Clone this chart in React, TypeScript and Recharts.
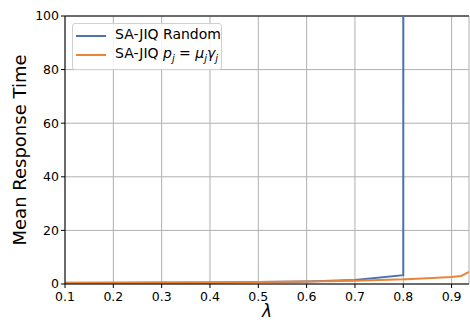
import { LineChart, Line, XAxis, YAxis, CartesianGrid, Label, ReferenceLine } from "recharts";

const lambdas = [0.1, 0.2, 0.3, 0.4, 0.5, 0.6, 0.7, 0.8, 0.805, 0.85, 0.9, 0.92, 0.936];
const randomJiq = [0.45, 0.5, 0.55, 0.6, 0.75, 0.95, 1.5, 3.3, 5000, 8000, 10000, 12000, 15000];
const weightedJiq = [0.4, 0.45, 0.5, 0.55, 0.7, 0.9, 1.2, 1.75, 1.8, 2.1, 2.6, 3.0, 4.5];
const xTicks = [0.1, 0.2, 0.3, 0.4, 0.5, 0.6, 0.7, 0.8, 0.9];
const yTicks = [0, 20, 40, 60, 80, 100];

const BLUE = "#4c72b0";
const ORANGE = "#e8853a";
const FONT = "'DejaVu Sans', sans-serif";

const data = lambdas.map((l, i) => ({ l, random: randomJiq[i], weighted: weightedJiq[i] }));

const LegendBox = () => (
  <div
    style={{
      position: "absolute",
      left: 72,
      top: 23,
      width: 148,
      height: 45,
      border: "1px solid #d0d0d0",
      borderRadius: 3,
      background: "rgba(255,255,255,0.85)",
      fontFamily: FONT,
      fontSize: 14,
      color: "#000",
    }}
  >
    <div style={{ position: "absolute", left: 3, top: 11, width: 30, height: 2, background: BLUE }} />
    <div style={{ position: "absolute", left: 42, top: 2, whiteSpace: "nowrap" }}>SA-JIQ Random</div>
    <div style={{ position: "absolute", left: 3, top: 30, width: 30, height: 2, background: ORANGE }} />
    <div style={{ position: "absolute", left: 42, top: 21, whiteSpace: "nowrap" }}>
      SA-JIQ <i>p</i>
      <sub style={{ fontSize: 10 }}><i>j</i></sub> = <i>μ</i>
      <sub style={{ fontSize: 10 }}><i>j</i></sub>
      <i>γ</i>
      <sub style={{ fontSize: 10 }}><i>j</i></sub>
    </div>
  </div>
);

export default function App() {
  return (
    <div style={{ position: "absolute", left: 0, top: 0, width: 470, height: 322, background: "#fff" }}>
      <LineChart width={470} height={322} data={data} margin={{ top: 16, right: 1, left: 0, bottom: 0 }}>
        <CartesianGrid stroke="#b0b0b0" strokeWidth={1} />
        <XAxis
          dataKey="l"
          type="number"
          domain={[0.1, 0.936]}
          allowDataOverflow
          ticks={xTicks}
          tickFormatter={(v: number) => v.toFixed(1)}
          height={38}
          stroke="#000"
          tickSize={4}
          tickMargin={4}
          tick={{ fill: "#000", fontSize: 12.5, fontFamily: FONT }}
        >
          <Label
            content={({ viewBox }: any) => (
              <text
                x={viewBox.x + viewBox.width / 2}
                y={317}
                textAnchor="middle"
                fontSize={17}
                fontStyle="italic"
                fontFamily={FONT}
                fill="#000"
              >
                λ
              </text>
            )}
          />
        </XAxis>
        <YAxis
          type="number"
          domain={[0, 100]}
          allowDataOverflow
          ticks={yTicks}
          width={65}
          stroke="#000"
          tickSize={4}
          tick={{ fill: "#000", fontSize: 12.5, fontFamily: FONT }}
        >
          <Label
            content={({ viewBox }: any) => {
              const cy = viewBox.y + viewBox.height / 2;
              return (
                <text
                  x={19}
                  y={cy}
                  transform={`rotate(-90, 19, ${cy})`}
                  textAnchor="middle"
                  dominantBaseline="central"
                  fontSize={18}
                  fontFamily={FONT}
                  fill="#000"
                >
                  Mean Response Time
                </text>
              );
            }}
          />
        </YAxis>
        <ReferenceLine y={100} stroke="#000" strokeWidth={1} />
        <Line dataKey="random" stroke={BLUE} strokeWidth={2} dot={false} isAnimationActive={false} />
        <Line dataKey="weighted" stroke={ORANGE} strokeWidth={2} dot={false} isAnimationActive={false} />
      </LineChart>
      <LegendBox />
    </div>
  );
}
